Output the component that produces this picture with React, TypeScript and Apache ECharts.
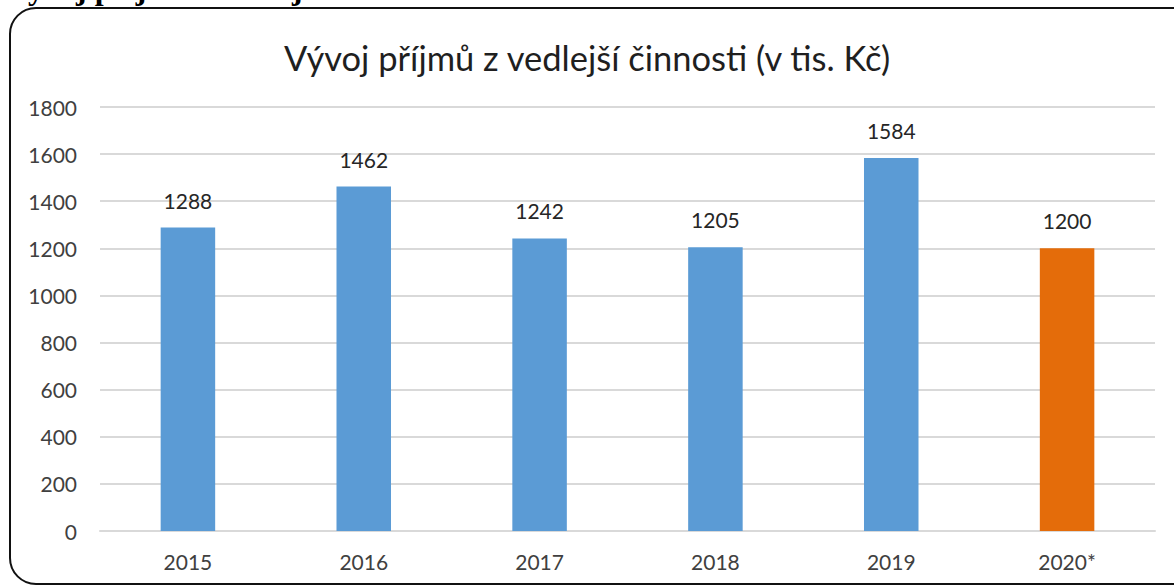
import React, { useEffect, useRef } from "react";
import * as echarts from "echarts";

const categories = ["2015", "2016", "2017", "2018", "2019", "2020*"];
const values = [1288, 1462, 1242, 1205, 1584, 1200];
const barColors = ["#5B9BD5", "#5B9BD5", "#5B9BD5", "#5B9BD5", "#5B9BD5", "#E46C0A"];
const titleText = "Vývoj příjmů z vedlejší činnosti (v tis. Kč)";
const headingText = "Vývoj příjmů z vedlejší činnosti";

const FONT = "Lato, 'Open Sans', sans-serif";

export default function App() {
  const ref = useRef<HTMLDivElement>(null);
  useEffect(() => {
    document.body.style.margin = "0";
    const chart = echarts.init(ref.current!, null, { renderer: "svg" });
    chart.setOption({
      animation: false,
      backgroundColor: "#ffffff",
      title: {
        text: titleText,
        left: "center",
        top: 35,
        textStyle: {
          fontFamily: FONT,
          fontSize: 34.5,
          fontWeight: "normal",
          color: "#1f1f1f",
        },
      },
      graphic: [
        {
          type: "rect",
          shape: { x: 10, y: 8, width: 1190, height: 576, r: 26 },
          style: { fill: "none", stroke: "#111111", lineWidth: 2 },
          z: 10,
        },
        {
          type: "text",
          x: 5,
          y: 4,
          style: {
            text: headingText,
            font: "bold 32px 'Liberation Serif', serif",
            fill: "#000000",
            textAlign: "left",
            verticalAlign: "bottom",
          },
          z: 11,
        },
      ],
      grid: { left: 100, right: 19, top: 107, bottom: 57, containLabel: false },
      xAxis: {
        type: "category",
        data: categories,
        axisLine: { show: true, lineStyle: { color: "#D9D9D9", width: 2 } },
        axisTick: { show: false },
        axisLabel: {
          margin: 20,
          fontFamily: FONT,
          fontSize: 21,
          color: "#404040",
        },
      },
      yAxis: {
        type: "value",
        min: 0,
        max: 1800,
        interval: 200,
        axisLine: { show: false },
        axisTick: { show: false },
        splitLine: { lineStyle: { color: "#D9D9D9", width: 2 } },
        axisLabel: {
          margin: 23,
          fontFamily: FONT,
          fontSize: 21,
          color: "#404040",
          formatter: (v: number) => String(v),
        },
      },
      series: [
        {
          type: "bar",
          barWidth: "31%",
          data: values.map((v, i) => ({ value: v, itemStyle: { color: barColors[i] } })),
          label: {
            show: true,
            position: "top",
            distance: 17,
            fontFamily: FONT,
            fontSize: 21,
            color: "#262626",
          },
        },
      ],
    });
    return () => chart.dispose();
  }, []);
  return <div ref={ref} style={{ width: 1174, height: 588 }} />;
}
